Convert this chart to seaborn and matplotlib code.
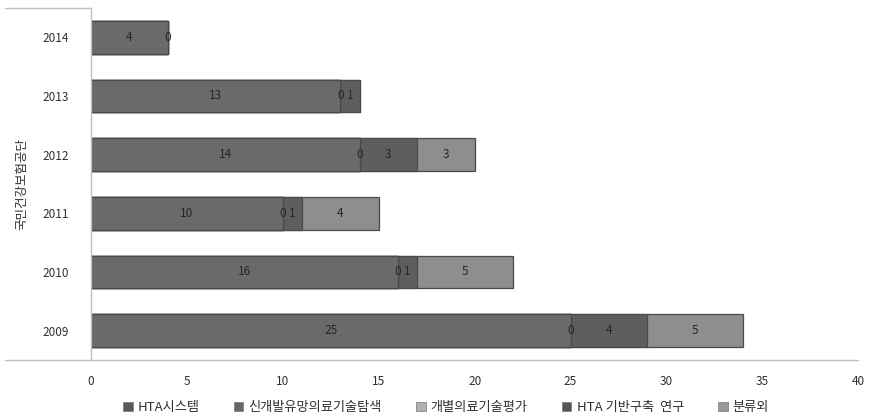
import numpy as np
import pandas as pd
import matplotlib
matplotlib.use("Agg")
import matplotlib.pyplot as plt
from matplotlib.patches import Patch
import seaborn as sns

years = ['2014', '2013', '2012', '2011', '2010', '2009']
hta_system = [4, 13, 14, 10, 16, 25]
new_tech = [0, 0, 0, 0, 0, 0]
individual = [np.nan, np.nan, np.nan, np.nan, np.nan, np.nan]
infra = [np.nan, 1, 3, 1, 1, 4]
other = [np.nan, np.nan, 3, 4, 5, 5]
series_names = ['HTA시스템', '신개발유망의료기술탐색', '개별의료기술평가', 'HTA 기반구축  연구', '분류외']
x_ticks = [0, 5, 10, 15, 20, 25, 30, 35, 40]
y_label = '국민건강보험공단'

sns.set_theme(style="white")
plt.rcParams['font.family'] = ['Noto Sans CJK KR', 'DejaVu Sans']

series = [hta_system, new_tech, individual, infra, other]
bar_colors = ['#6a6a6a', '#626262', '#8a8a8a', '#5e5e5e', '#8e8e8e']
legend_colors = ['#585858', '#666666', '#b0b0b0', '#555555', '#9a9a9a']

vals = np.array(series, dtype=float)
filled = np.nan_to_num(vals)
cums = np.cumsum(filled, axis=0)

fig = plt.figure(figsize=(8.75, 4.2), dpi=100)
ax = fig.add_axes([0.104, 0.143, 0.877, 0.838])

# draw cumulative totals from last to first so each segment is visible
for i in range(len(series) - 1, -1, -1):
    df = pd.DataFrame({'year': years, 'value': cums[i]})
    sns.barplot(data=df, x='value', y='year', orient='h', color=bar_colors[i],
                width=0.56, edgecolor='#4a4a4a', linewidth=0.9,
                saturation=1, ax=ax, order=years)

# data labels
for i in range(len(series)):
    for j, y in enumerate(years):
        v = vals[i, j]
        if np.isnan(v):
            continue
        start = cums[i, j] - filled[i, j]
        ax.text(start + v / 2, j, f"{int(v)}", ha='center', va='center',
                fontsize=8.5, color='#262626')

ax.set_xlim(0, 40)
ax.set_ylim(5.5, -0.5)
ax.set_xticks(x_ticks)
ax.set_xticklabels([str(t) for t in x_ticks], fontsize=8.5, color='#303030')
ax.tick_params(axis='x', length=0, pad=11)
ax.tick_params(axis='y', length=0, pad=16, labelsize=8.5, labelcolor='#303030')
ax.set_xlabel('')
ax.set_ylabel(y_label, fontsize=9, color='#303030', labelpad=10)

for s in ['top', 'right', 'bottom']:
    ax.spines[s].set_visible(False)
ax.spines['left'].set_color('#bfbfbf')
ax.spines['left'].set_linewidth(1.0)
# bottom line extending under label area, top-left border
ax.plot([-0.112, 1.0], [0, 0], transform=ax.transAxes, color='#bfbfbf', lw=1.0, clip_on=False)
ax.plot([-0.112, 0.0], [1, 1], transform=ax.transAxes, color='#bfbfbf', lw=1.0, clip_on=False)

handles = [Patch(facecolor=c, edgecolor='#777777', linewidth=0.5) for c in legend_colors]
fig.legend(handles, series_names, loc='center', bbox_to_anchor=(0.51, 0.029),
           ncol=5, frameon=False, fontsize=9.5, handlelength=0.7, handleheight=0.7,
           handletextpad=0.4, columnspacing=2.6, labelcolor='#303030')

fig.savefig('out.png', dpi=100)
